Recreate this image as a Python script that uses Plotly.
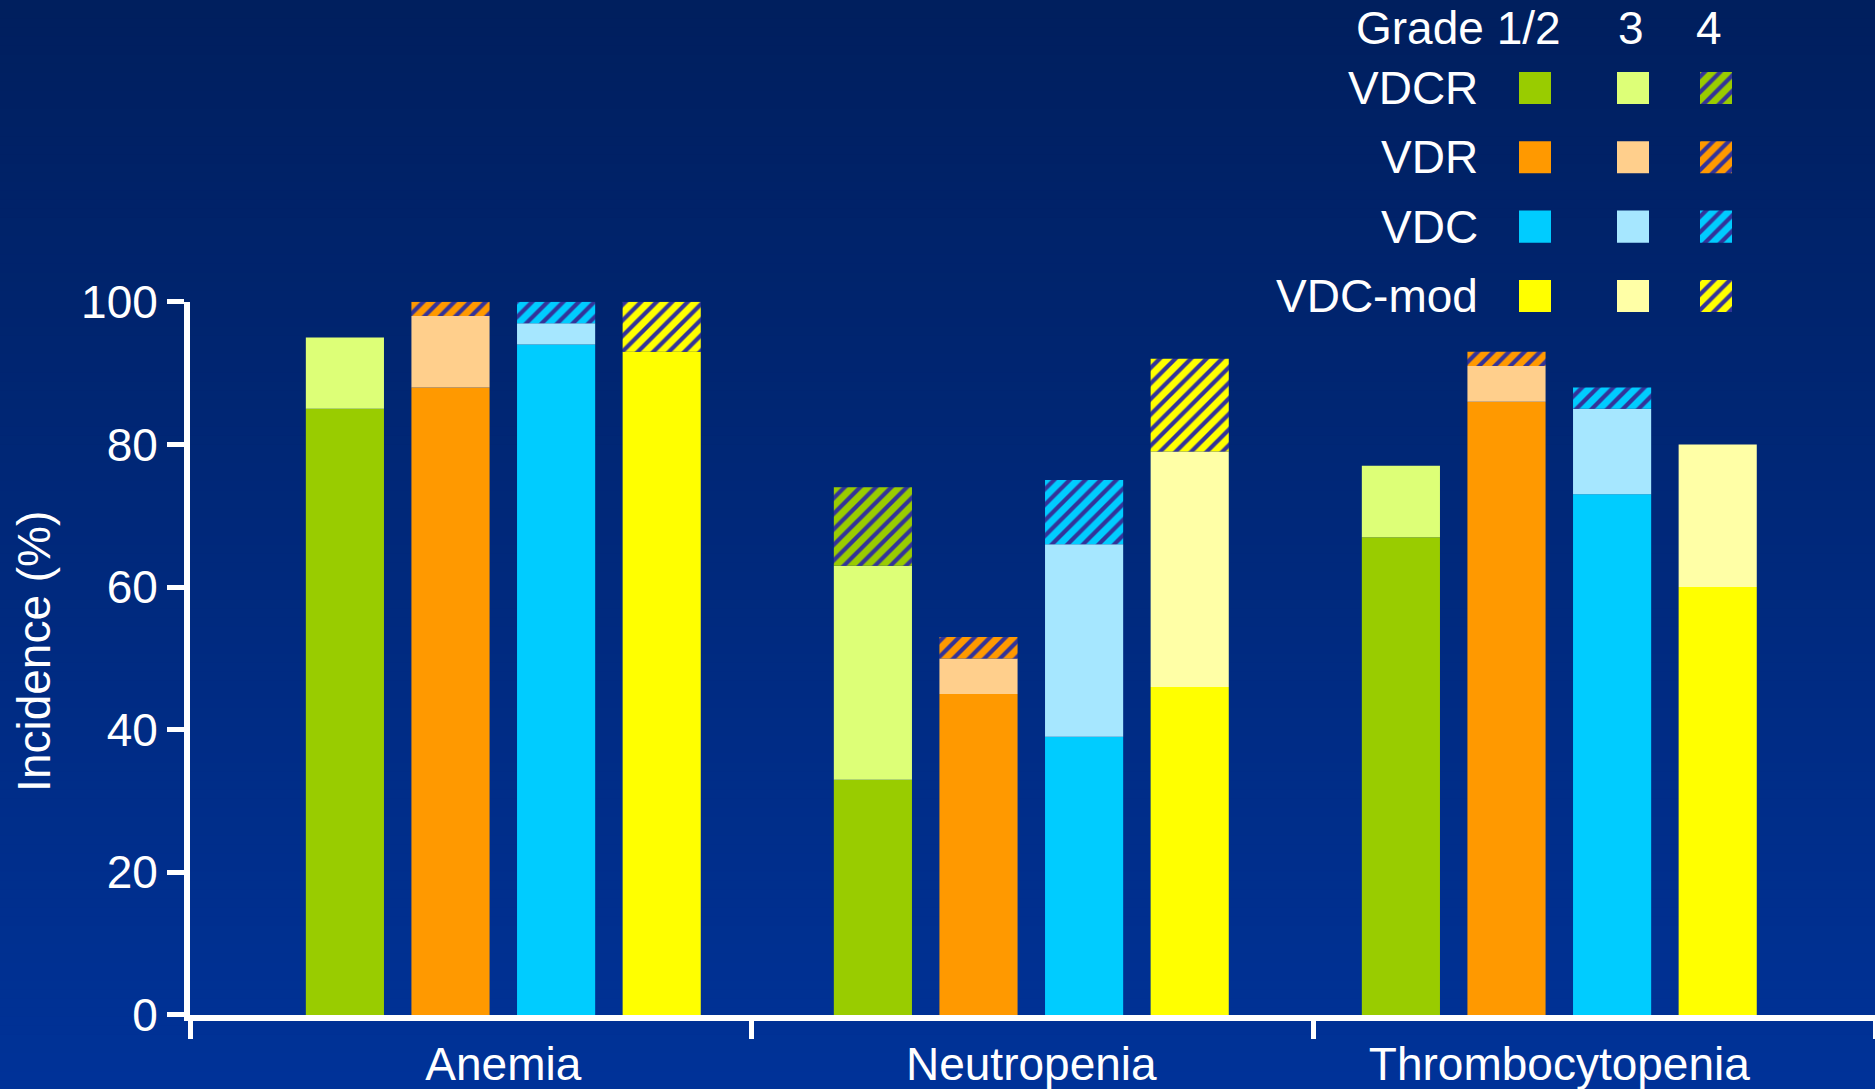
import plotly.graph_objects as go
import numpy as np

# ---------------- data ----------------
categories = ["Anemia", "Neutropenia", "Thrombocytopenia"]
regimens = ["VDCR", "VDR", "VDC", "VDC-mod"]
grade_labels = ["Grade 1/2", "3", "4"]

vdcr_grade12 = [85, 33, 67]
vdcr_grade3 = [10, 30, 10]
vdcr_grade4 = [0, 11, 0]

vdr_grade12 = [88, 45, 86]
vdr_grade3 = [10, 5, 5]
vdr_grade4 = [2, 3, 2]

vdc_grade12 = [94, 39, 73]
vdc_grade3 = [3, 27, 12]
vdc_grade4 = [3, 9, 3]

vdcmod_grade12 = [93, 46, 60]
vdcmod_grade3 = [0, 33, 20]
vdcmod_grade4 = [7, 13, 0]

y_ticks = [0, 20, 40, 60, 80, 100]

# ---------------- styles ----------------
grade12_colors = ["#99CC00", "#FF9900", "#00CCFF", "#FFFF00"]
grade3_colors = ["#DDFF77", "#FFCF8C", "#A6E7FF", "#FFFFA6"]
hatch_color = "#333399"
FONT = "Liberation Sans, Arial, sans-serif"
FS = 46

series = {
    "VDCR": (vdcr_grade12, vdcr_grade3, vdcr_grade4),
    "VDR": (vdr_grade12, vdr_grade3, vdr_grade4),
    "VDC": (vdc_grade12, vdc_grade3, vdc_grade4),
    "VDC-mod": (vdcmod_grade12, vdcmod_grade3, vdcmod_grade4),
}

# ---------------- layout geometry ----------------
W, H = 1875, 1089
ML = 190
MB = 74.3
PAPER_H = H - MB          # paper spans py 0 .. PAPER_H
MAIN_TOP_PY = 301.7


def py2paper(py):
    return (PAPER_H - py) / PAPER_H


def px2paper(px):
    return (px - ML) / (W - ML)


CAT_PX = 528.0
CAT0_PX = 503.3
xmin = (ML - CAT0_PX) / CAT_PX
xmax = (W - CAT0_PX) / CAT_PX
bar_offsets = [-0.3, -0.1, 0.1, 0.3]
bar_width = 0.148


def pattern(color):
    return dict(shape="/", fgcolor=hatch_color, bgcolor=color, size=11,
                solidity=0.38, fillmode="replace")


fig = go.Figure()

cat_idx = np.arange(len(categories))
for r, name in enumerate(regimens):
    g12, g3, g4 = (np.array(v, dtype=float) for v in series[name])
    xs = cat_idx + bar_offsets[r]
    fig.add_trace(go.Bar(x=xs, y=g12, base=np.zeros_like(g12), width=bar_width,
                         marker=dict(color=grade12_colors[r], line=dict(width=0)),
                         name=f"{name} grade 1/2", showlegend=False))
    fig.add_trace(go.Bar(x=xs, y=g3, base=g12, width=bar_width,
                         marker=dict(color=grade3_colors[r], line=dict(width=0)),
                         name=f"{name} grade 3", showlegend=False))
    fig.add_trace(go.Bar(x=xs, y=g4, base=g12 + g3, width=bar_width,
                         marker=dict(color=grade12_colors[r], line=dict(width=0),
                                     pattern=pattern(grade12_colors[r])),
                         name=f"{name} grade 4", showlegend=False))

# ---------------- custom legend (swatch grid) ----------------
LEG_X0, LEG_X1 = 1490, 1760
legend_col_left = [1519, 1617, 1700]
SW = 32
row_top_py, row_pitch = 53.3, 69.3
leg_y0_py = row_top_py
leg_y1_py = row_top_py + row_pitch * len(regimens)

for r, name in enumerate(regimens):
    c12, c3 = grade12_colors[r], grade3_colors[r]
    specs = [
        dict(color=c12, line=dict(width=0)),
        dict(color=c3, line=dict(width=0)),
        dict(color=c12, line=dict(width=0), pattern=pattern(c12)),
    ]
    for g in range(3):
        fig.add_trace(go.Bar(orientation="h", y=[name], x=[SW], base=[legend_col_left[g]],
                             width=SW / row_pitch, marker=specs[g],
                             xaxis="x2", yaxis="y2", showlegend=False,
                             hoverinfo="skip"))

# ---------------- background gradient ----------------
top_rgb = np.array([0, 31, 94])
bot_rgb = np.array([0, 51, 153])
n_bands = 120
shapes = []
for i in range(n_bands):
    t = (i + 0.5) / n_bands
    c = top_rgb + (bot_rgb - top_rgb) * t
    y_top = H * i / n_bands
    y_bot = H * (i + 1) / n_bands + 1
    shapes.append(dict(type="rect", xref="paper", yref="paper",
                       x0=px2paper(0), x1=px2paper(W),
                       y0=py2paper(y_bot), y1=py2paper(y_top),
                       fillcolor=f"rgb({int(c[0])},{int(c[1])},{int(c[2])})",
                       line=dict(width=0), layer="below"))

annotations = []
# y-axis title
annotations.append(dict(text="Incidence (%)", textangle=-90, xref="paper", yref="paper",
                        x=px2paper(34), y=py2paper(651.7), xanchor="center", yanchor="middle",
                        showarrow=False, font=dict(family=FONT, size=FS, color="white")))
# legend header
header_pos = [(1563, "right"), (1630.6, "center"), (1708.7, "center")]
for lab, (px, anc) in zip(grade_labels, header_pos):
    annotations.append(dict(text=lab, xref="paper", yref="paper", x=px2paper(px),
                            y=py2paper(28), xanchor=anc, yanchor="middle", showarrow=False,
                            font=dict(family=FONT, size=FS, color="white")))
# legend row labels
for r, name in enumerate(regimens):
    annotations.append(dict(text=name, xref="paper", yref="y2", x=px2paper(1480), y=r,
                            xanchor="right", yanchor="middle", showarrow=False,
                            font=dict(family=FONT, size=FS, color="white")))

third = (xmax - xmin) / 3
boundary_ticks = [xmin + 1e-6, xmin + third, xmin + 2 * third, xmax - 1e-6]

fig.update_layout(
    width=W, height=H,
    margin=dict(l=ML, r=0, t=0, b=MB, pad=0, autoexpand=False),
    paper_bgcolor="#002a7a",
    plot_bgcolor="rgba(0,0,0,0)",
    barmode="overlay",
    font=dict(family=FONT, size=FS, color="white"),
    shapes=shapes,
    annotations=annotations,
    xaxis=dict(domain=[0, 1], range=[xmin, xmax], tickmode="array",
               tickvals=list(cat_idx), ticktext=categories, ticks="",
               ticklabelstandoff=4, automargin=False,
               showline=True, linewidth=6, linecolor="white", showgrid=False,
               zeroline=False, tickfont=dict(family=FONT, size=FS, color="white"),
               minor=dict(tickmode="array", tickvals=boundary_ticks, ticks="outside",
                          ticklen=18, tickwidth=5, tickcolor="white", showgrid=False),
               fixedrange=True),
    yaxis=dict(domain=[0, py2paper(MAIN_TOP_PY)], range=[0, 100], tickmode="array",
               tickvals=y_ticks, ticks="outside", ticklen=17, tickwidth=5,
               tickcolor="white", showline=True, linewidth=6, linecolor="white",
               showgrid=False, zeroline=False, automargin=False,
               tickfont=dict(family=FONT, size=FS, color="white"), fixedrange=True),
    xaxis2=dict(domain=[px2paper(LEG_X0), px2paper(LEG_X1)], range=[LEG_X0, LEG_X1],
                anchor="y2", visible=False, fixedrange=True, automargin=False),
    yaxis2=dict(domain=[py2paper(leg_y1_py), py2paper(leg_y0_py)], type="category",
                categoryorder="array", categoryarray=regimens,
                range=[len(regimens) - 0.5, -0.5], anchor="x2", visible=False,
                fixedrange=True, automargin=False),
)

fig.write_html("out.html", config={"displayModeBar": False})
